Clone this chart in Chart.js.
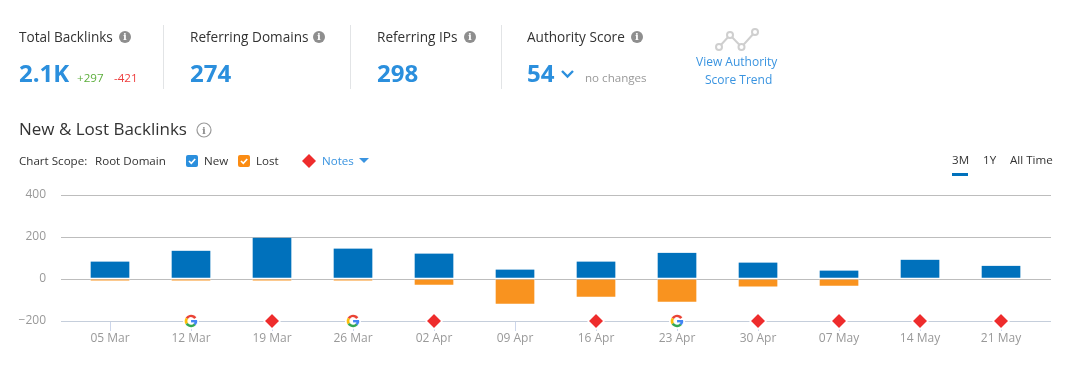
<!DOCTYPE html>
<html>
<head>
<meta charset="utf-8">
<title>New & Lost Backlinks</title>
<script src="https://cdn.jsdelivr.net/npm/chart.js@4"></script>
<style>
  html, body { margin: 0; padding: 0; background: #fff; }
  body { width: 1075px; height: 379px; position: relative; overflow: hidden; font-family: "Open Sans", sans-serif; color: #333; }
  #chart { position: absolute; left: 0; top: 0; }
  .t { position: absolute; white-space: nowrap; line-height: 20px; }
  .label { font-size: 13.6px; top: 27px; }
  .big { font-size: 24px; font-weight: 700; color: #2b8fdd; top: 63px; }
  .small { font-size: 11.6px; }
  .blue { color: #3a94e0; }
  .sep { position: absolute; top: 25px; width: 1px; height: 64px; background: #e2e4e6; }
  .info { position: absolute; top: 31px; width: 12px; height: 12px; border-radius: 50%; background: #8e8e8e; color: #fff; font: 700 10px/12px "DejaVu Serif", serif; text-align: center; }
  .box { position: absolute; top: 155px; width: 12px; height: 12px; border-radius: 2px; }
  .box svg { display: block; }
</style>
</head>
<body>
<canvas id="chart" width="1075" height="379"></canvas>

<span class="t label" style="left:19px">Total Backlinks</span><span class="info" style="left:119px">i</span>
<span class="t big" style="left:19px">2.1K</span>
<span class="t small" style="left:77px;top:68px;color:#5cae3c">+297</span>
<span class="t small" style="left:114px;top:68px;color:#ee3c3c">-421</span>
<div class="sep" style="left:163px"></div>

<span class="t label" style="left:190px">Referring Domains</span><span class="info" style="left:313px">i</span>
<span class="t big" style="left:190px">274</span>
<div class="sep" style="left:350px"></div>

<span class="t label" style="left:377px">Referring IPs</span><span class="info" style="left:464px">i</span>
<span class="t big" style="left:377px">298</span>
<div class="sep" style="left:501px"></div>

<span class="t label" style="left:527px">Authority Score</span><span class="info" style="left:631px">i</span>
<span class="t big" style="left:527px">54</span>
<svg style="position:absolute;left:560px;top:69px" width="15" height="10"><path d="M2 2 L7.5 7.5 L13 2" fill="none" stroke="#2b8fdd" stroke-width="2.4"/></svg>
<span class="t small" style="left:585px;top:68px;color:#999">no changes</span>

<svg style="position:absolute;left:714px;top:25px" width="48" height="28">
  <path d="M5 22 L16 10 L27.5 22 L41 7" fill="none" stroke="#cfcfcf" stroke-width="2"/>
  <g fill="#fff" stroke="#cfcfcf" stroke-width="2">
    <circle cx="5" cy="22" r="3"/><circle cx="16" cy="10" r="3"/><circle cx="27.5" cy="22" r="3"/><circle cx="41" cy="7" r="3"/>
  </g>
</svg>
<span class="t blue" style="left:696px;top:52px;font-size:12px">View Authority</span>
<span class="t blue" style="left:705px;top:70px;font-size:12px">Score Trend</span>

<span class="t" style="left:19px;top:119px;font-size:17px">New &amp; Lost Backlinks</span>
<svg style="position:absolute;left:196px;top:122px" width="16" height="16"><circle cx="8" cy="8" r="7" fill="none" stroke="#9a9a9a" stroke-width="1.2"/><text x="8" y="12" text-anchor="middle" font-family="DejaVu Serif" font-size="10" font-weight="700" fill="#8e8e8e">i</text></svg>

<span class="t small" style="left:19px;top:151px">Chart Scope:</span>
<span class="t small" style="left:95px;top:151px">Root Domain</span>
<div class="box" style="left:186px;background:#2b8fdd"><svg width="12" height="12"><path d="M3 6 L5.3 8.3 L9.2 4" fill="none" stroke="#fff" stroke-width="1.7"/></svg></div>
<span class="t small" style="left:204px;top:151px">New</span>
<div class="box" style="left:238px;background:#fb8c13"><svg width="12" height="12"><path d="M3 6 L5.3 8.3 L9.2 4" fill="none" stroke="#fff" stroke-width="1.7"/></svg></div>
<span class="t small" style="left:256px;top:151px">Lost</span>
<svg style="position:absolute;left:302px;top:154px" width="14" height="14"><path d="M7 0 L14 7 L7 14 L0 7 Z" fill="#ee2c2c"/></svg>
<span class="t small blue" style="left:322px;top:151px">Notes</span>
<svg style="position:absolute;left:359px;top:158px" width="10" height="6"><path d="M0 0 L10 0 L5 5 Z" fill="#3a94e0"/></svg>

<span class="t small" style="left:952px;top:150px">3M</span>
<span class="t small" style="left:983px;top:150px">1Y</span>
<span class="t small" style="left:1010px;top:150px">All Time</span>
<div style="position:absolute;left:952px;top:173px;width:16px;height:3px;background:#0071bc"></div>

<script>
// Datos
const categories = ['05 Mar', '12 Mar', '19 Mar', '26 Mar', '02 Apr', '09 Apr', '16 Apr', '23 Apr', '30 Apr', '07 May', '14 May', '21 May'];
const newLinks = [83, 135, 197, 145, 121, 45, 83, 125, 78, 40, 92, 63];
const lostLinks = [-9, -9, -9, -9, -30, -121, -88, -112, -39, -35, 0, 0];
const markerKinds = [null, 'google', 'note', 'google', 'note', null, 'note', 'google', 'note', 'note', 'note', 'note'];
const yTicks = [-200, 0, 200, 400];
const markerLevel = -200;

// Icono de la G de Google
function makeGoogleIcon() {
    const c = document.createElement('canvas');
    c.width = 16;
    c.height = 16;
    const g = c.getContext('2d');
    g.fillStyle = '#fff';
    g.beginPath();
    g.arc(8, 8, 8, 0, Math.PI * 2);
    g.fill();
    g.lineWidth = 2.6;
    const arcs = [['#ea4335', -2.6, -0.6], ['#fbbc05', 2.6, 3.7], ['#34a853', 0.7, 2.6], ['#4285f4', 0, 0.75]];
    arcs.forEach(([color, from, to]) => {
        g.strokeStyle = color;
        g.beginPath();
        g.arc(8, 8, 5, from, to);
        g.stroke();
    });
    g.fillStyle = '#4285f4';
    g.fillRect(8, 7, 6, 2.4);
    return c;
}

const googleIcon = makeGoogleIcon();

new Chart(document.getElementById('chart').getContext('2d'), {
    data: {
        datasets: [
            {
                type: 'bar',
                label: 'New',
                data: newLinks.map((v, i) => ({ x: i, y: v })),
                backgroundColor: '#0071bc',
                borderColor: '#fff',
                borderWidth: 1,
                borderSkipped: 'top',
                barThickness: 40,
            },
            {
                type: 'bar',
                label: 'Lost',
                data: lostLinks.map((v, i) => ({ x: i, y: v })),
                backgroundColor: '#f9931f',
                borderColor: '#fff',
                borderWidth: 1,
                borderSkipped: 'bottom',
                barThickness: 40,
            },
            {
                type: 'scatter',
                label: 'Notes',
                data: markerKinds.map((k, i) => ({ x: i, y: k ? markerLevel : null })),
                clip: false,
                pointStyle: ctx => markerKinds[ctx.dataIndex] === 'google' ? googleIcon : 'rectRot',
                pointRadius: 8,
                pointBackgroundColor: '#ee2c2c',
                pointBorderColor: '#fff',
                pointBorderWidth: 1.5,
            },
        ],
    },
    options: {
        responsive: false,
        animation: false,
        layout: { padding: { top: 195, right: 24, bottom: 30, left: 0 } },
        plugins: { legend: { display: false }, tooltip: { enabled: false } },
        scales: {
            x: {
                type: 'linear',
                stacked: true,
                offset: false,
                min: -0.605,
                max: 11.617,
                afterBuildTicks: axis => { axis.ticks = categories.map((c, i) => ({ value: i })); },
                afterFit: axis => { axis.height = 28; },
                grid: { offset: false, drawOnChartArea: false, drawTicks: true, tickLength: 10, tickColor: '#ccd6eb' },
                border: { display: false },
                ticks: {
                    autoSkip: false,
                    maxRotation: 0,
                    padding: 0,
                    color: '#999',
                    font: { family: '"Open Sans"', size: 12 },
                    callback: value => categories[value],
                },
            },
            y: {
                stacked: true,
                min: -200,
                max: 400,
                afterBuildTicks: axis => { axis.ticks = yTicks.map(v => ({ value: v })); },
                afterFit: axis => { axis.width = 61; },
                grid: {
                    drawTicks: false,
                    color: ctx => ctx.tick.value === markerLevel ? '#c5cedb' : '#bdbdbd',
                },
                border: { display: false },
                ticks: {
                    padding: 15,
                    color: '#999',
                    font: { family: '"Open Sans"', size: 12 },
                    callback: value => String(value).replace('-', '\u2212'),
                },
            },
        },
    },
});
</script>
</body>
</html>
